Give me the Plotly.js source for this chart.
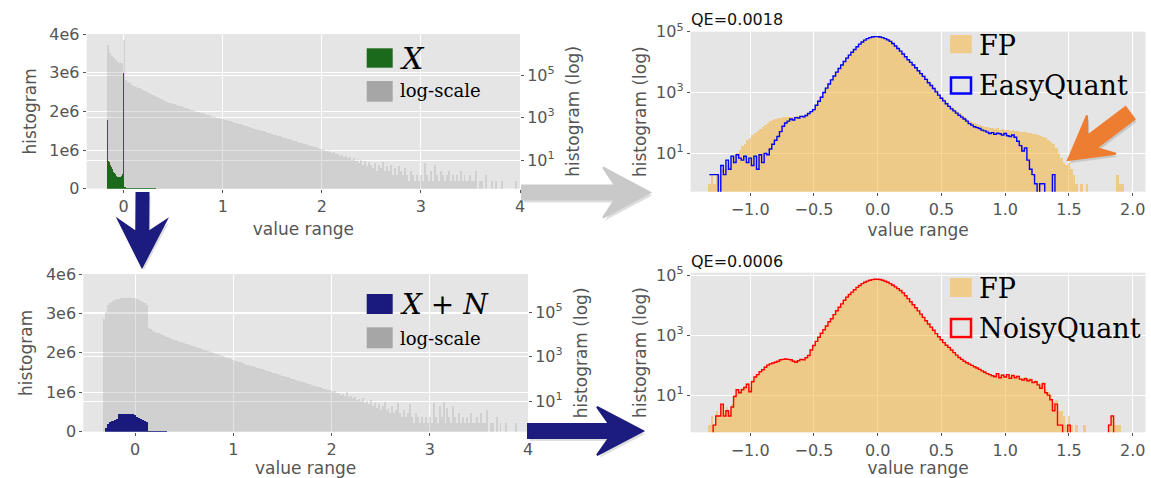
<!DOCTYPE html>
<html>
<head>
<meta charset="utf-8">
<script src="https://cdn.plot.ly/plotly-3.0.1.min.js"></script>
<style>
  html, body { margin: 0; padding: 0; background: #ffffff; }
  #chart { width: 1151px; height: 478px; }
</style>
</head>
<body>
<div id="chart"></div>
<script>
// ================= DATA =================
// Top-left: histogram of X (linear, green) and the same on a log scale (grey)
const tlGrayBinStart = -0.17, tlGrayBinWidth = 0.02;
const tlGrayCounts = [
  2.5e6, 1.1e6, 8.0e5, 6.3e5, 5.0e5, 4.3e5, 3.8e5, 3.5e5, 4.5e6, 56000,
  47000, 40000, 35500, 31600, 28000, 25700, 23400, 21400, 19500, 17800,
  16200, 14800, 13200, 11700, 10500, 9300, 8300, 7400, 6600, 6000,
  5500, 5000, 4700, 4400, 4100, 3800, 3550, 3300, 3100, 2900,
  2700, 2500, 2350, 2200, 2050, 1900, 1780, 1660, 1550, 1450,
  1350, 1260, 1170, 1100, 1020, 980, 930, 890, 850, 800,
  740, 690, 660, 620, 575, 540, 500, 480, 450, 415,
  390, 365, 345, 325, 300, 280, 265, 250, 235, 220,
  205, 190, 178, 165, 155, 148, 138, 129, 120, 112,
  105, 100, 93, 87, 81, 76, 71, 66, 62, 58,
  54, 50, 47, 44, 42, 39, 36, 34, 32, 30,
  26, 28, 24, 22, 23, 19, 20, 16, 17, 14,
  15, 12, 14, 10, 12, 9, 11, 7, 10, 6,
  9, 5, 8, 6, 4, 7, 3, 6, 4, 8,
  3, 5, 3, 6, 2, 4, 2, 5, 3, 2,
  4, 2, 1, 3, 2, 1, 2, 1, 2, 1,
  7, 2, 1, 3, 1, 6, 2, 1, 3, 2,
  1, 2, 3, 1, 2, 1, 2, 1, 3, 1,
  2, 1, 1, 2, 1, 1, 3, 0, 1, 1,
  0, 2, 0, 0, 1, 0, 1, 0, 0, 1,
  0, 0, 0, 0, 0, 0, 1, 0
];
const tlGreenBinStart = -0.165, tlGreenBinWidth = 0.01;
const tlGreenCounts = [
  1.78e6, 7.2e5, 6.8e5, 6.2e5, 5.6e5, 5.0e5, 4.4e5, 4.0e5, 3.7e5, 3.3e5,
  3.1e5, 3.1e5, 3.0e5, 3.1e5, 3.2e5, 3.8e5, 2.98e6, 5.0e4, 4.0e4, 3.0e4,
  2.4e4, 2.2e4, 2.1e4, 2.0e4, 2.0e4, 1.9e4, 1.9e4, 1.8e4, 1.8e4, 1.7e4,
  1.7e4, 1.6e4, 1.6e4, 1.5e4, 1.5e4, 1.4e4, 1.4e4, 1.3e4, 1.3e4, 1.2e4,
  1.2e4, 1.1e4, 1.1e4, 1.0e4, 1.0e4, 1.0e4, 0.9e4, 0.9e4, 0.9e4
];

// Bottom-left: histogram of X + N (linear, navy) and on a log scale (grey)
const blGrayBinStart = -0.33, blGrayBinWidth = 0.02;
const blGrayCounts = [
  50000, 100000, 200000, 250000, 290000, 316000, 350000, 370000, 400000, 420000,
  430000, 440000, 440000, 450000, 440000, 440000, 430000, 400000, 360000, 316000,
  280000, 245000, 215000, 20000, 16600, 14500, 12900, 11700, 11000, 10000,
  9300, 8500, 7900, 7200, 6800, 6300, 5750, 5400, 5000, 4700,
  4400, 4100, 3800, 3550, 3300, 3100, 2900, 2700, 2500, 2350,
  2200, 2050, 1900, 1780, 1660, 1550, 1450, 1350, 1260, 1170,
  1100, 1020, 950, 890, 830, 760, 690, 645, 600, 575,
  540, 500, 470, 435, 415, 390, 365, 340, 315, 300,
  280, 265, 245, 230, 220, 205, 190, 178, 165, 158,
  148, 138, 129, 120, 115, 107, 100, 93, 87, 83,
  78, 72, 68, 63, 60, 56, 52, 49, 46, 44,
  41, 38, 35, 33, 32, 30, 28, 25, 27, 22,
  24, 19, 21, 17, 25, 15, 16, 13, 15, 11,
  12, 10, 13, 8, 10, 7, 11, 6, 8, 5,
  7, 4, 6, 9, 4, 5, 3, 6, 3, 4,
  8, 3, 2, 4, 2, 3, 7, 2, 1, 3,
  2, 1, 2, 1, 2, 1, 2, 1, 8, 2,
  1, 6, 2, 9, 1, 5, 2, 1, 6, 2,
  1, 3, 1, 2, 1, 2, 1, 3, 1, 1,
  2, 1, 3, 1, 1, 4, 0, 1, 1, 0,
  2, 0, 1, 0, 0, 1, 0, 0, 0, 0,
  1, 0, 0, 0, 0, 0
];
const blNavyBinStart = -0.31, blNavyBinWidth = 0.02;
const blNavyCounts = [
  9e4, 1.9e5, 2.4e5, 2.6e5, 2.8e5, 2.9e5, 3.1e5, 4.4e5, 4.5e5, 4.6e5,
  4.5e5, 4.6e5, 4.5e5, 4.6e5, 4.4e5, 4.3e5, 3.8e5, 3.6e5, 3.3e5, 3.0e5,
  2.6e5, 2.5e5, 2.0e4, 1.2e4, 1.2e4, 1.1e4, 1.1e4, 1.0e4, 1.0e4, 0.9e4,
  0.9e4, 0.8e4
];

// Right column: FP histogram vs. quantised histograms (log scale)
const rBinStart = -1.33, rBinWidth = 0.02;
const trFpCounts = [
  1, 2, 1, 2, 2, 3, 3, 4, 5, 7,
  8, 10, 13, 17, 21, 27, 33, 40, 48, 56,
  65, 75, 88, 100, 115, 125, 135, 142, 150, 155,
  158, 160, 162, 163, 165, 168, 175, 180, 195, 215,
  245, 290, 400, 560, 760, 1080, 1500, 2050, 2800, 3800,
  5100, 6700, 8700, 11300, 14500, 18300, 22600, 28000, 34500, 42000,
  50000, 57000, 64000, 69000, 73000, 75000, 75000, 73000, 69500, 64000,
  58500, 52000, 45000, 37500, 30500, 25000, 20000, 16200, 13000, 10600,
  8700, 7100, 5700, 4600, 3700, 3000, 2350, 1900, 1500, 1170,
  920, 730, 600, 490, 400, 335, 285, 245, 210, 180,
  158, 138, 120, 108, 98, 90, 84, 80, 76, 72,
  70, 66, 64, 66, 60, 62, 58, 60, 56, 58,
  54, 56, 52, 50, 52, 46, 48, 42, 44, 40,
  38, 35, 31, 28, 24, 20, 15, 10, 7, 5,
  4, 5, 3, 2, 1, 0, 1, 0, 1, 0,
  0, 0, 0, 0, 0, 0, 0, 0, 0, 0,
  2, 1, 1, 0, 0
];
const trEasyQuantCounts = [
  2, 2, 2, 2, 0, 4, 2, 6, 3, 8,
  5, 9, 7, 6, 8, 5, 7, 4, 8, 3,
  9, 5, 10, 9, 14, 20, 27, 36, 52, 78,
  100, 115, 135, 125, 150, 145, 165, 160, 175, 205,
  235, 275, 380, 520, 700, 1000, 1400, 1900, 2600, 3500,
  4700, 6200, 8000, 10500, 13500, 17000, 21000, 26000, 32000, 39000,
  46000, 53000, 59000, 64000, 67000, 69000, 69000, 67000, 64000, 59000,
  54000, 48000, 41000, 34000, 28000, 23000, 18500, 15000, 12000, 9800,
  8000, 6500, 5200, 4200, 3400, 2700, 2100, 1700, 1350, 1050,
  820, 650, 530, 430, 350, 290, 250, 210, 180, 155,
  135, 115, 95, 85, 75, 70, 66, 58, 55, 50,
  45, 48, 42, 46, 44, 40, 45, 38, 36, 40,
  34, 25, 18, 12, 15, 6, 3, 2, 1, 0,
  1, 1, 0, 0, 0, 2, 0, 0, 0, 0,
  0, 0, 0, 0, 0, 0, 0, 0, 0, 0,
  0, 0, 0, 0, 0, 0, 0, 0, 0, 0,
  0, 0, 0, 0, 0
];
const brFpCounts = [
  1, 2, 1, 3, 2, 5, 3, 4, 3, 5,
  10, 16, 14, 17, 20, 25, 18, 32, 43, 50,
  64, 75, 90, 105, 115, 124, 132, 140, 155, 160,
  165, 162, 158, 148, 140, 150, 165, 165, 185, 220,
  340, 470, 650, 890, 1200, 1570, 2100, 2900, 3650, 5000,
  6800, 8900, 11500, 15200, 19400, 23600, 28300, 34000, 40800, 47000,
  54000, 60000, 65800, 70500, 73600, 75700, 75700, 74000, 70500, 65200,
  60500, 54300, 48000, 42300, 37000, 31800, 26600, 21400, 17200, 13600,
  10800, 8600, 6700, 5250, 4100, 3150, 2450, 1930, 1510, 1170,
  920, 730, 585, 480, 405, 335, 272, 225, 188, 162,
  141, 125, 113, 102, 92, 84, 76, 68, 62, 56,
  52, 48, 46, 55, 44, 50, 45, 52, 42, 48,
  42, 46, 38, 36, 40, 34, 36, 30, 32, 26,
  22, 28, 16, 13, 10, 6, 7, 3, 3, 2,
  1, 2, 1, 0, 1, 0, 0, 1, 0, 0,
  0, 0, 0, 0, 0, 0, 0, 1, 2, 1,
  1, 1, 0, 0, 0
];
const brNoisyQuantCounts = [
  0, 0, 1, 2, 2, 5, 2, 3, 2, 4,
  9, 15, 12, 15, 18, 23, 13, 28, 40, 48,
  60, 70, 85, 100, 110, 118, 125, 135, 150, 155,
  160, 155, 150, 135, 125, 140, 155, 150, 175, 210,
  320, 450, 620, 850, 1150, 1500, 2000, 2800, 3500, 4800,
  6500, 8500, 11000, 14500, 18500, 22500, 27000, 32500, 39000, 45000,
  52000, 57500, 63000, 67500, 70500, 72500, 72500, 71000, 67500, 62500,
  58000, 52000, 46000, 40500, 35500, 30500, 25500, 20500, 16500, 13000,
  10300, 8200, 6400, 5000, 3900, 3000, 2350, 1850, 1450, 1120,
  880, 700, 560, 460, 390, 320, 260, 215, 180, 155,
  135, 120, 108, 98, 88, 80, 72, 64, 58, 52,
  48, 44, 41, 52, 38, 46, 40, 48, 36, 45,
  38, 42, 34, 32, 35, 30, 32, 26, 28, 22,
  17, 24, 12, 10, 7, 3, 5, 1, 1, 0,
  0, 1, 0, 0, 0, 0, 0, 0, 0, 0,
  0, 0, 0, 0, 0, 0, 0, 1, 2, 0,
  0, 0, 0, 0, 0
];

// Tick labels and texts
const linearTickVals = [0, 1e6, 2e6, 3e6, 4e6];
const linearTickText = ['0', '1e6', '2e6', '3e6', '4e6'];
const logTickVals = [10, 1000, 100000];
const logTickText = ['10<sup>1</sup>', '10<sup>3</sup>', '10<sup>5</sup>'];
const leftXTickVals = [0, 1, 2, 3, 4];
const rightXTickVals = [-1.0, -0.5, 0.0, 0.5, 1.0, 1.5, 2.0];
const qeTexts = ['QE=0.0018', 'QE=0.0006'];
const legendTop = ['<i>X</i>', 'log-scale'];
const legendBottom = ['<i>X</i> + <i>N</i>', 'log-scale'];
const legendTR = ['FP', 'EasyQuant'];
const legendBR = ['FP', 'NoisyQuant'];

// ================= STYLE =================
const W = 1151, H = 478;
const C = {
  bg: '#E5E5E5', grid: '#FFFFFF', tick: '#555555',
  gray: 'rgba(150,150,150,0.27)', graySwatch: '#A6A6A6',
  green: '#1B6A1B', navy: '#1A1A7C', fp: 'rgba(246,176,52,0.52)', fpSwatch: '#EFCB8C',
  blue: '#0000FF', red: '#FF0000', orange: '#ED7D31', arrowGray: '#C9C9C9', arrowNavy: '#1C1C7E'
};
const px = v => v / W;
const py = v => 1 - v / H;
const tickFont = { family: 'DejaVu Sans', size: 16, color: C.tick };
const titleFont = { family: 'DejaVu Sans', size: 17, color: C.tick };

function zerosBelow(arr) { return arr.map(v => (v === 0 ? 1e-3 : v)); }

function bars(counts, start, width, xa, ya, color) {
  return { type: 'bar', x0: start + width / 2, dx: width, y: counts, width: width,
           xaxis: xa, yaxis: ya, marker: { color: color, line: { width: 0 } },
           hoverinfo: 'skip', showlegend: false };
}
function steps(counts, start, width, xa, ya, color) {
  return { type: 'scatter', mode: 'lines', x0: start + width / 2, dx: width, y: zerosBelow(counts),
           xaxis: xa, yaxis: ya, line: { color: color, width: 1.4, shape: 'hvh' },
           hoverinfo: 'skip', showlegend: false };
}

const traces = [
  bars(tlGrayCounts, tlGrayBinStart, tlGrayBinWidth, 'x', 'y', C.gray),
  bars(tlGreenCounts, tlGreenBinStart, tlGreenBinWidth, 'x', 'y2', C.green),
  bars(blGrayCounts, blGrayBinStart, blGrayBinWidth, 'x2', 'y3', C.gray),
  bars(blNavyCounts, blNavyBinStart, blNavyBinWidth, 'x2', 'y4', C.navy),
  bars(trFpCounts, rBinStart, rBinWidth, 'x3', 'y5', C.fp),
  steps(trEasyQuantCounts, rBinStart, rBinWidth, 'x3', 'y5', C.blue),
  bars(brFpCounts, rBinStart, rBinWidth, 'x4', 'y6', C.fp),
  steps(brNoisyQuantCounts, rBinStart, rBinWidth, 'x4', 'y6', C.red)
];

const common = {
  showgrid: true, gridcolor: C.grid, gridwidth: 1, zeroline: false, showline: false,
  ticks: 'outside', ticklen: 3, tickwidth: 1, tickcolor: C.tick, tickfont: tickFont
};
function xAxis(domain, range, anchor, tickvals, fmt, standoff) {
  return Object.assign({}, common, { domain, range, anchor, tickmode: 'array', tickvals,
    tickformat: fmt, title: { text: 'value range', font: titleFont, standoff: standoff } });
}
function logAxis(domain, range, anchor, side, standoff) {
  return Object.assign({}, common, { domain, range, anchor, side, type: 'log',
    tickmode: 'array', tickvals: logTickVals, ticktext: logTickText,
    title: { text: 'histogram (log)', font: titleFont, standoff: standoff } });
}
function linAxis(over, anchor, standoff) {
  return Object.assign({}, common, { overlaying: over, anchor, side: 'left', range: [0, 4e6],
    tickmode: 'array', tickvals: linearTickVals, ticktext: linearTickText,
    title: { text: 'histogram', font: titleFont, standoff: standoff } });
}

function arrowPath(tail, tip, sh, hl, hh, notch, off) {
  off = off || [0, 0];
  const dx = tip[0] - tail[0], dy = tip[1] - tail[1];
  const L = Math.hypot(dx, dy), ux = dx / L, uy = dy / L, nx = -uy, ny = ux;
  const at = (d, o) => [tip[0] - ux * d + nx * o, tip[1] - uy * d + ny * o];
  const pts = [[tail[0] + nx * sh, tail[1] + ny * sh], at(hl - notch, sh), at(hl, hh), tip,
               at(hl, -hh), at(hl - notch, -sh), [tail[0] - nx * sh, tail[1] - ny * sh]];
  return 'M' + pts.map(p => px(p[0] + off[0]).toFixed(5) + ',' + py(p[1] + off[1]).toFixed(5)).join(' L') + ' Z';
}
function arrowShapes(tail, tip, sh, hl, hh, notch, color) {
  return [
    { type: 'path', xref: 'paper', yref: 'paper', path: arrowPath(tail, tip, sh, hl, hh, notch, [2, 3]),
      fillcolor: 'rgba(0,0,0,0.13)', line: { width: 0 } },
    { type: 'path', xref: 'paper', yref: 'paper', path: arrowPath(tail, tip, sh, hl, hh, notch),
      fillcolor: color, line: { color: color, width: 2 } }
  ];
}
function rect(x0, y0, x1, y1, fill, lineColor) {
  return { type: 'rect', xref: 'paper', yref: 'paper', x0: px(x0), x1: px(x1), y0: py(y1), y1: py(y0),
           fillcolor: fill || 'rgba(0,0,0,0)', line: { color: lineColor || fill, width: lineColor ? 2.5 : 0 } };
}
function label(x, y, text, size, family, color) {
  return { xref: 'paper', yref: 'paper', x: px(x), y: py(y), xanchor: 'left', yanchor: 'middle',
           text, showarrow: false, font: { family: family || 'DejaVu Serif', size, color: color || '#000' } };
}

const shapes = [].concat(
  rect(366.7, 48.3, 392.7, 67.7, C.green),
  rect(366.7, 81, 392.7, 101.7, C.graySwatch),
  rect(366.7, 294, 392.7, 314, C.navy),
  rect(366.7, 327.3, 392.7, 348.3, C.graySwatch),
  rect(950, 35, 971.7, 53.3, C.fpSwatch),
  rect(951, 77.5, 971, 93.5, null, C.blue),
  rect(950, 278, 971.7, 297, C.fpSwatch),
  rect(951, 319, 971, 337, null, C.red),
  arrowShapes([142.5, 193], [142, 267], 6, 47, 24, 12, C.arrowNavy),
  arrowShapes([522, 192.5], [650, 192.5], 7, 47, 25, 12, C.arrowGray),
  arrowShapes([528, 431], [643, 431], 7, 46, 24, 12, C.arrowNavy),
  arrowShapes([1130, 113], [1068, 160], 7.5, 42, 24, 12, C.orange)
);

const annotations = [
  label(398, 58, legendTop[0], 30),
  label(398, 91, legendTop[1], 18),
  label(398, 304, legendBottom[0], 28),
  label(398, 338, legendBottom[1], 18),
  label(977, 45, legendTR[0], 27),
  label(977, 86, legendTR[1], 27),
  label(977, 288, legendBR[0], 27),
  label(977, 328, legendBR[1], 27),
  label(689, 19, qeTexts[0], 16, 'DejaVu Sans', '#111'),
  label(689, 261, qeTexts[1], 16, 'DejaVu Sans', '#111')
];

const layout = {
  width: W, height: H, margin: { l: 0, r: 0, t: 0, b: 0 },
  paper_bgcolor: '#FFFFFF', plot_bgcolor: C.bg, barmode: 'overlay', bargap: 0,
  font: { family: 'DejaVu Sans', color: C.tick }, showlegend: false,
  xaxis: xAxis([px(86.7), px(520)], [-0.373, 4.0], 'y', leftXTickVals, 'd', 8),
  yaxis: logAxis([py(188.7), py(34)], [-0.35, 6.93], 'x', 'right', 13),
  yaxis2: linAxis('y', 'x', 8),
  xaxis2: xAxis([px(83.3), px(528)], [-0.527, 4.0], 'y3', leftXTickVals, 'd', 5),
  yaxis3: logAxis([py(431.7), py(274)], [-0.38, 6.71], 'x2', 'right', 13),
  yaxis4: linAxis('y3', 'x2', 8),
  xaxis3: xAxis([px(690.7), px(1145.5)], [-1.466, 2.1], 'y5', rightXTickVals, '.1f', 6),
  yaxis5: logAxis([py(191.7), py(31.7)], [-0.26, 5.0], 'x3', 'left', 5),
  xaxis4: xAxis([px(690.7), px(1145.5)], [-1.466, 2.1], 'y6', rightXTickVals, '.1f', 5),
  yaxis6: logAxis([py(432.3), py(272.7)], [-0.24, 5.08], 'x4', 'left', 5),
  shapes, annotations
};

Plotly.newPlot('chart', traces, layout, { displayModeBar: false, staticPlot: true });
</script>
</body>
</html>
